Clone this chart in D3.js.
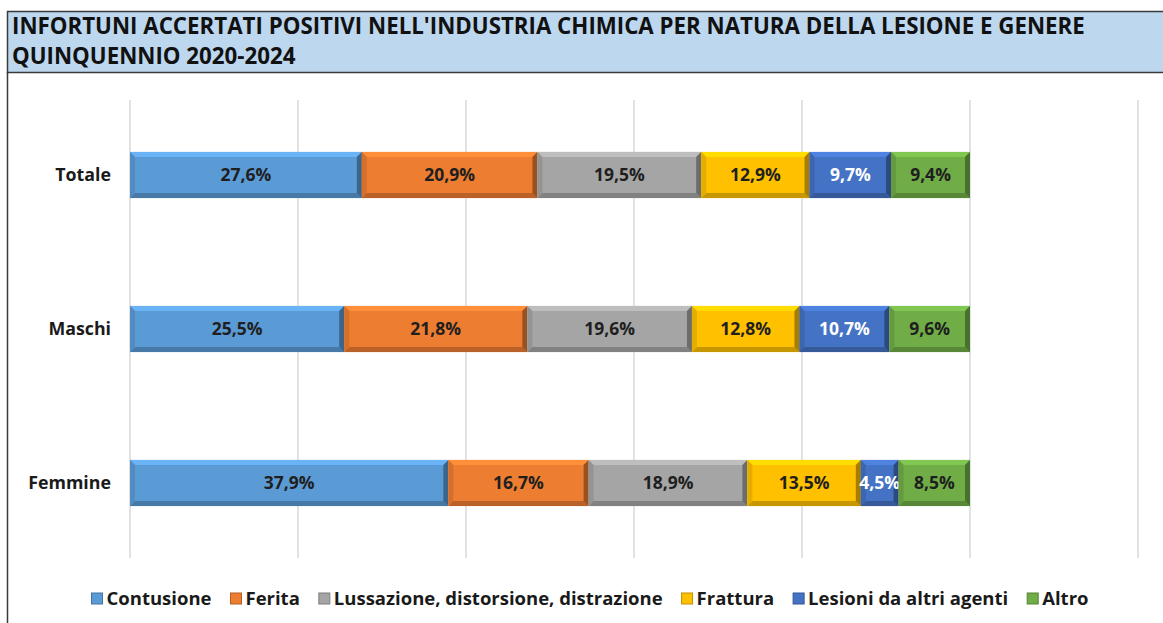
<!DOCTYPE html>
<html>
<head>
<meta charset="utf-8">
<script src="https://cdn.jsdelivr.net/npm/d3@7"></script>
<style>
  body { margin: 0; background: #fff; }
  svg { display: block; }
</style>
</head>
<body>
<div id="wrapper"></div>
<script>
// data
const groups = ['Totale', 'Maschi', 'Femmine']
const categories = [
  'Contusione',
  'Ferita',
  'Lussazione, distorsione, distrazione',
  'Frattura',
  'Lesioni da altri agenti',
  'Altro',
]
const totaleValues = [27.6, 20.9, 19.5, 12.9, 9.7, 9.4]
const maschiValues = [25.5, 21.8, 19.6, 12.8, 10.7, 9.6]
const femmineValues = [37.9, 16.7, 18.9, 13.5, 4.5, 8.5]
const xTicks = [0, 20, 40, 60, 80, 100, 120]
const titleLines = [
  "INFORTUNI ACCERTATI POSITIVI NELL'INDUSTRIA CHIMICA PER NATURA DELLA LESIONE E GENERE",
  'QUINQUENNIO 2020-2024',
]

const colors = ['#5B9BD5', '#ED7D31', '#A5A5A5', '#FFC000', '#4472C4', '#70AD47']
const labelColors = ['#1f1f1f', '#1f1f1f', '#1f1f1f', '#1f1f1f', '#ffffff', '#1f1f1f']

const seriesByGroup = [totaleValues, maschiValues, femmineValues]

const width = 1163
const height = 623
const fontFamily = "'Open Sans', 'Noto Sans', sans-serif"

const svg = d3
  .select('#wrapper')
  .append('svg')
  .attr('width', width)
  .attr('height', height)
  .style('font-family', fontFamily)

// title box
svg
  .append('rect')
  .attr('x', 7.5)
  .attr('y', 11.5)
  .attr('width', width)
  .attr('height', 61)
  .attr('fill', '#BDD7EE')
  .attr('stroke', '#3a3a3a')
  .attr('stroke-width', 1.5)

svg
  .append('line')
  .attr('x1', 7.5)
  .attr('x2', 7.5)
  .attr('y1', 72)
  .attr('y2', height)
  .attr('stroke', '#3a3a3a')
  .attr('stroke-width', 1.5)

svg
  .selectAll('.title')
  .data(titleLines)
  .enter()
  .append('text')
  .attr('class', 'title')
  .attr('x', 12)
  .attr('y', (d, i) => 34 + i * 30)
  .attr('font-size', 22.3)
  .attr('font-weight', 700)
  .attr('fill', '#111')
  .text((d) => d)

// scales
const xScale = d3.scaleLinear().domain([0, 100]).range([130, 970])
const yScale = d3
  .scaleBand()
  .domain(groups)
  .range([98, 560])
  .paddingInner(0.7)
  .paddingOuter(0.35)

// gridlines
svg
  .append('g')
  .selectAll('line')
  .data(xTicks)
  .enter()
  .append('line')
  .attr('x1', (d) => xScale(d))
  .attr('x2', (d) => xScale(d))
  .attr('y1', 100)
  .attr('y2', 558)
  .attr('stroke', '#d9d9d9')
  .attr('stroke-width', 1.5)

// stacked data
const rows = groups.map((g, gi) => {
  let acc = 0
  return seriesByGroup[gi].map((v, ci) => {
    const d = { group: g, cat: ci, value: v, x0: acc, x1: acc + v }
    acc += v
    return d
  })
})

const bevel = 5
const segs = svg
  .append('g')
  .selectAll('g.seg')
  .data(rows.flat())
  .enter()
  .append('g')
  .attr('class', 'seg')

segs.each(function (d) {
  const g = d3.select(this)
  const x = xScale(d.x0)
  const w = xScale(d.x1) - xScale(d.x0)
  const y = yScale(d.group)
  const h = yScale.bandwidth()
  const base = d3.color(colors[d.cat])
  const b = Math.min(bevel, w / 2)
  g.append('rect')
    .attr('x', x)
    .attr('y', y)
    .attr('width', w)
    .attr('height', h)
    .attr('fill', base)
  const poly = (pts, fill) =>
    g.append('polygon').attr('points', pts.map((p) => p.join(',')).join(' ')).attr('fill', fill)
  // top
  poly([[x, y], [x + w, y], [x + w - b, y + b], [x + b, y + b]], base.brighter(0.4))
  // bottom
  poly([[x, y + h], [x + w, y + h], [x + w - b, y + h - b], [x + b, y + h - b]], base.darker(0.7))
  // left
  poly([[x, y], [x + b, y + b], [x + b, y + h - b], [x, y + h]], base.darker(0.3))
  // right
  poly([[x + w, y], [x + w - b, y + b], [x + w - b, y + h - b], [x + w, y + h]], base.darker(1.2))
  g.append('text')
    .attr('x', x + w / 2)
    .attr('y', y + h / 2)
    .attr('dy', '0.36em')
    .attr('text-anchor', 'middle')
    .attr('font-size', 17.5)
    .attr('font-weight', 700)
    .attr('fill', labelColors[d.cat])
    .text(d3.format('.1f')(d.value).replace('.', ',') + '%')
})

// y labels
svg
  .append('g')
  .selectAll('text')
  .data(groups)
  .enter()
  .append('text')
  .attr('x', 111)
  .attr('y', (d) => yScale(d) + yScale.bandwidth() / 2)
  .attr('dy', '0.36em')
  .attr('text-anchor', 'end')
  .attr('font-size', 17.8)
  .attr('font-weight', 700)
  .attr('fill', '#1a1a1a')
  .text((d) => d)

// legend
const legend = svg.append('g').attr('class', 'legend')
const legendY = 598
const items = legend
  .selectAll('g')
  .data(categories)
  .enter()
  .append('g')
items
  .append('rect')
  .attr('width', 11)
  .attr('height', 11)
  .attr('y', legendY - 5)
  .attr('fill', (d, i) => colors[i])
  .attr('stroke', (d, i) => d3.color(colors[i]).darker(0.8))
  .attr('stroke-width', 1)
items
  .append('text')
  .attr('x', 15)
  .attr('y', legendY)
  .attr('dy', '0.36em')
  .attr('font-size', 18.5)
  .attr('font-weight', 700)
  .attr('fill', '#1a1a1a')
  .text((d) => d)

const gap = 19
let cursor = 0
const offsets = []
items.each(function () {
  offsets.push(cursor)
  const tw = d3.select(this).select('text').node().getComputedTextLength()
  cursor += 15 + tw + gap
})
const totalW = cursor - gap
const startX = 590 - totalW / 2
items.attr('transform', (d, i) => `translate(${startX + offsets[i]},0)`)
</script>
</body>
</html>
